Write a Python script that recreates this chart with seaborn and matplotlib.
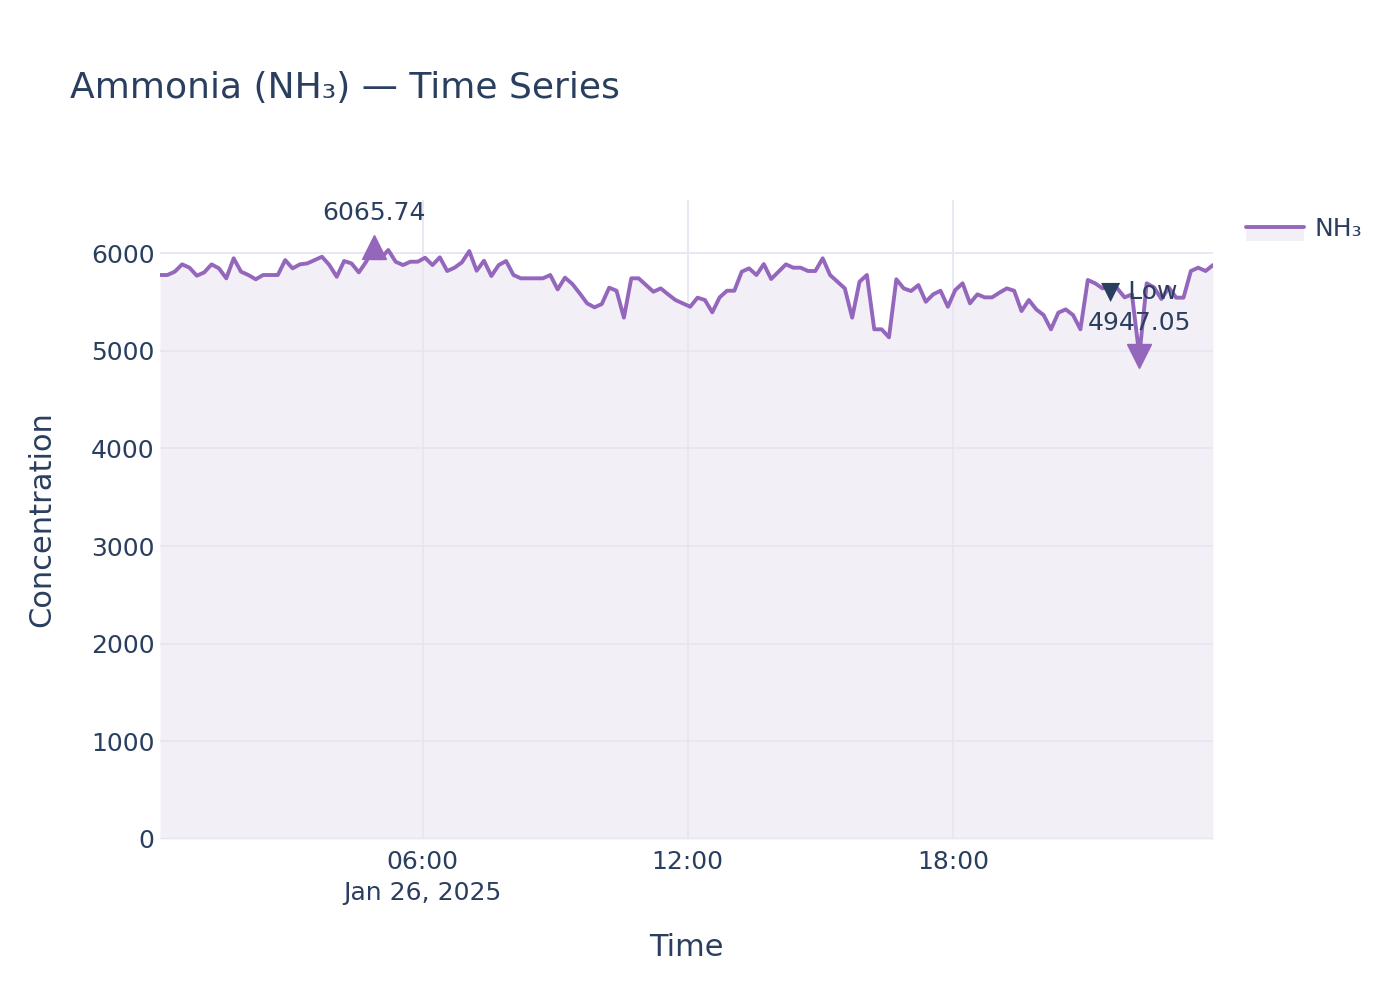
import pandas as pd
import matplotlib.pyplot as plt
import seaborn as sns
from matplotlib.lines import Line2D
from matplotlib.patches import Rectangle
from matplotlib.legend_handler import HandlerBase

# NH3 readings every 10 minutes, split in 6-hour blocks
block_00_06 = [5775, 5775, 5809, 5884, 5850, 5768, 5802, 5884, 5843, 5741, 5946, 5809,
               5775, 5731, 5775, 5775, 5775, 5928, 5843, 5884, 5894, 5928, 5962, 5877,
               5757, 5918, 5894, 5802, 5911, 6065.74, 5946, 6031, 5911, 5877, 5911, 5911]
block_06_12 = [5952, 5877, 5956, 5816, 5850, 5905, 6020, 5819, 5921, 5765, 5877, 5918,
               5775, 5741, 5741, 5741, 5741, 5775, 5628, 5748, 5683, 5587, 5485, 5444,
               5478, 5645, 5614, 5338, 5741, 5741, 5672, 5604, 5638, 5577, 5519, 5485]
block_12_18 = [5450, 5543, 5519, 5393, 5546, 5614, 5614, 5809, 5843, 5775, 5887, 5734,
               5809, 5884, 5850, 5850, 5816, 5816, 5946, 5775, 5706, 5638, 5338, 5706,
               5775, 5219, 5219, 5137, 5731, 5638, 5611, 5672, 5501, 5577, 5614, 5450]
block_18_24 = [5621, 5690, 5485, 5577, 5546, 5546, 5594, 5638, 5614, 5406, 5519, 5423,
               5365, 5219, 5389, 5423, 5365, 5219, 5724, 5690, 5638, 5660, 5638, 5546,
               5577, 4947.05, 5690, 5648, 5529, 5648, 5543, 5543, 5816, 5850, 5816, 5877]

values = block_00_06 + block_06_12 + block_12_18 + block_18_24
times = pd.date_range("2025-01-26 00:03:20", periods=len(values), freq="10min")
tick_times = pd.to_datetime(["2025-01-26 06:00", "2025-01-26 12:00", "2025-01-26 18:00"])
tick_labels = ["06:00\nJan 26, 2025", "12:00", "18:00"]
y_ticks = [0, 1000, 2000, 3000, 4000, 5000, 6000]

df = pd.DataFrame({"Time": times, "NH3": values})

text_color = "#2a3f5f"
line_color = "#9467bd"
fill_color = "#f2eff7"
grid_color = "#e6e6f2"


class FillLineHandler(HandlerBase):
    # line on top of a light fill band, like the plotly legend swatch
    def create_artists(self, legend, orig_handle, xdescent, ydescent, width, height,
                       fontsize, trans):
        mid = height / 2 - ydescent
        band = Rectangle((-xdescent, mid - height * 0.8), width, height * 0.8,
                         facecolor=fill_color, edgecolor="none", transform=trans)
        line = Line2D([-xdescent, -xdescent + width], [mid, mid], color=line_color,
                      linewidth=2.8, transform=trans)
        return [band, line]


sns.set_style("white")
plt.rcParams["font.family"] = ["DejaVu Sans"]

fig = plt.figure(figsize=(14, 10), dpi=100)
ax = fig.add_axes([0.1143, 0.161, 0.7521, 0.639])

ax.fill_between(df["Time"], 0, df["NH3"], color=fill_color, zorder=1, linewidth=0)
sns.lineplot(data=df, x="Time", y="NH3", ax=ax, color=line_color, linewidth=2.8, zorder=3)

ax.set_xlim(times[0], times[-1])
ax.set_ylim(0, 6543)
ax.set_xticks(tick_times)
ax.set_xticklabels(tick_labels, linespacing=1.35)
ax.set_yticks(y_ticks)
ax.tick_params(axis="both", length=0, labelsize=18, colors=text_color)
ax.tick_params(axis="x", pad=8)
ax.tick_params(axis="y", pad=4)
ax.grid(True, color=grid_color, linewidth=1.3, zorder=2)
ax.set_axisbelow(False)
ax.axhline(0, color=grid_color, linewidth=2.5, zorder=2)
for s in ax.spines.values():
    s.set_visible(False)
ax.set_xlabel("")
ax.set_ylabel("")

# high / low markers
i_max = df["NH3"].idxmax()
i_min = df["NH3"].idxmin()
ax.plot(df["Time"][i_max], df["NH3"][i_max], marker="^", markersize=17,
        color=line_color, zorder=4, clip_on=False)
ax.plot(df["Time"][i_min], df["NH3"][i_min], marker="v", markersize=17,
        color=line_color, zorder=4, clip_on=False)
ax.annotate(f"{df['NH3'][i_max]:.2f}", (df["Time"][i_max], df["NH3"][i_max]),
            xytext=(0, 24), textcoords="offset points", ha="center", va="center",
            fontsize=18, color=text_color, annotation_clip=False)
ax.annotate(f"▼ Low\n{df['NH3'][i_min]:.2f}", (df["Time"][i_min], df["NH3"][i_min]),
            xytext=(0, 35), textcoords="offset points", ha="center", va="center",
            fontsize=18, color=text_color, linespacing=1.35, annotation_clip=False)

fig.text(0.05, 0.912, "Ammonia (NH₃) — Time Series", fontsize=26, color=text_color,
         ha="left", va="center")
fig.text(0.4904, 0.052, "Time", fontsize=22, color=text_color, ha="center", va="center")
fig.text(0.03, 0.4805, "Concentration", fontsize=22, color=text_color, ha="center",
         va="center", rotation=90)

fig.legend([object()], ["NH₃"], handler_map={object: FillLineHandler()},
           loc="upper left", bbox_to_anchor=(0.874, 0.806), frameon=False,
           fontsize=18, labelcolor=text_color, handlelength=2.3, handletextpad=0.45)

plt.savefig("out.png", dpi=100)
